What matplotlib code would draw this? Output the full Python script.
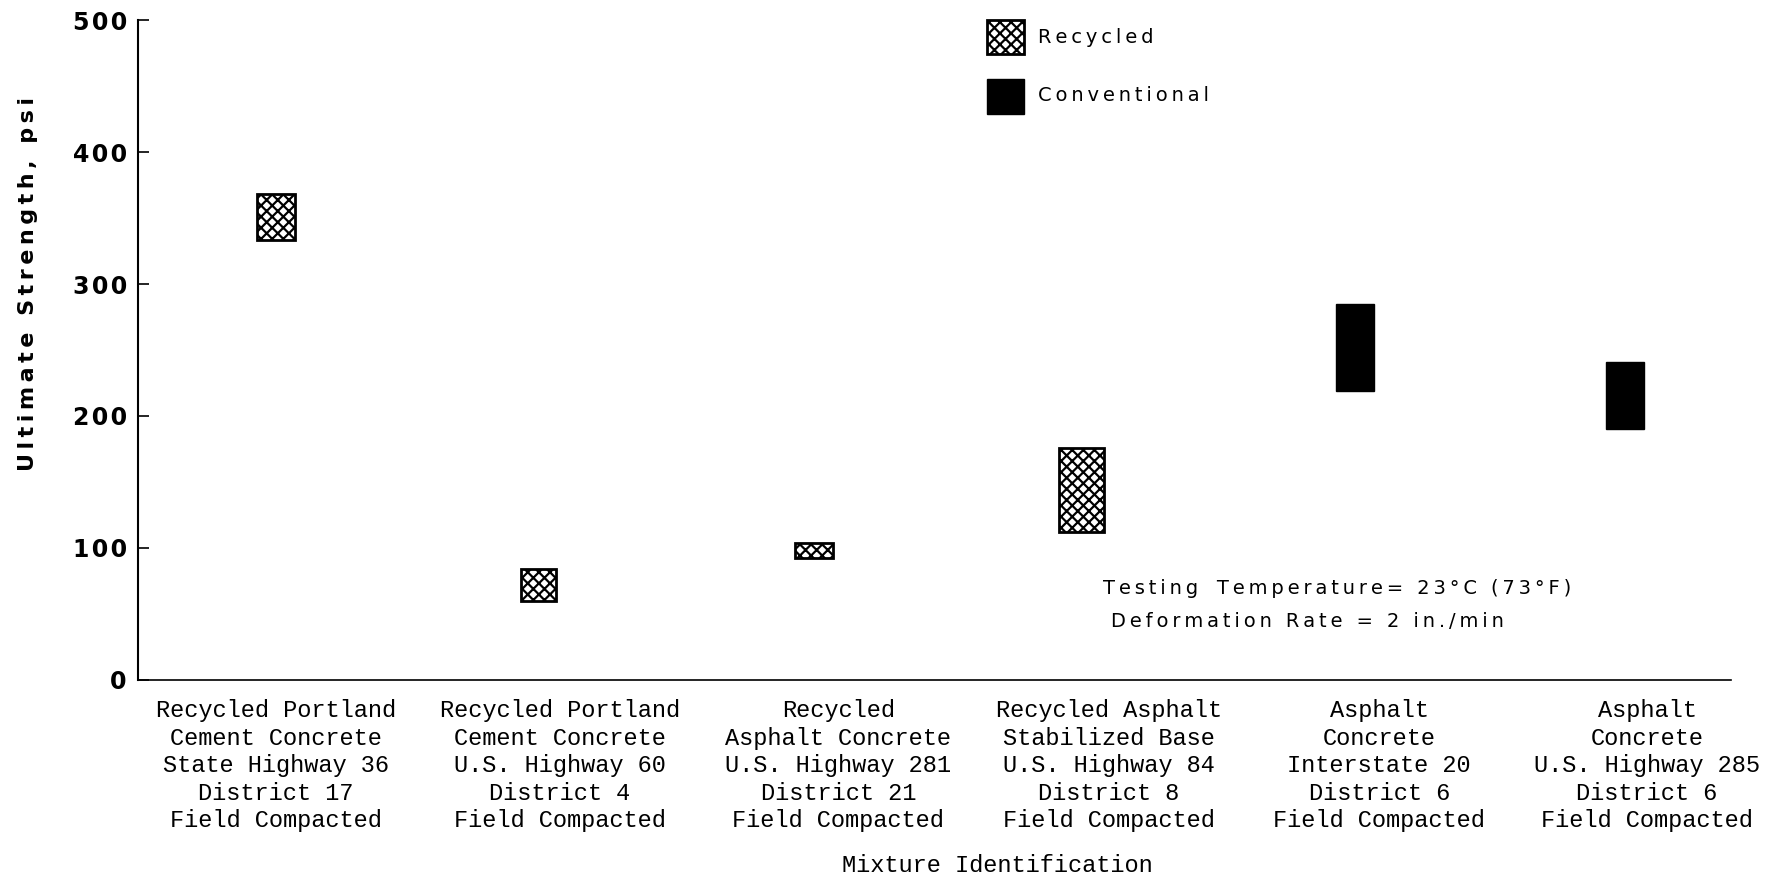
import matplotlib
matplotlib.use("Agg")
import matplotlib.pyplot as plt
from matplotlib.patches import Rectangle

categories = [
    "Recycled Portland\nCement Concrete\nState Highway 36\nDistrict 17\nField Compacted",
    "Recycled Portland\nCement Concrete\nU.S. Highway 60\nDistrict 4\nField Compacted",
    "Recycled\nAsphalt Concrete\nU.S. Highway 281\nDistrict 21\nField Compacted",
    "Recycled Asphalt\nStabilized Base\nU.S. Highway 84\nDistrict 8\nField Compacted",
    "Asphalt\nConcrete\nInterstate 20\nDistrict 6\nField Compacted",
    "Asphalt\nConcrete\nU.S. Highway 285\nDistrict 6\nField Compacted",
]
strength_low = [333, 60, 92, 112, 219, 190]
strength_high = [368, 84, 104, 176, 285, 241]
mixture_type = ["Recycled", "Recycled", "Recycled", "Recycled", "Conventional", "Conventional"]
yticks = [0, 100, 200, 300, 400, 500]

plt.rcParams["hatch.linewidth"] = 1.6

def spaced(s, sep="\u2009"):
    return sep.join(s)

fig = plt.figure(figsize=(17.68, 8.75), dpi=100)
ax = fig.add_axes([0.078, 0.223, 0.901, 0.754])

bar_x = [0, 0.97, 1.99, 2.98, 3.99, 4.99]
bar_w = [0.14, 0.13, 0.14, 0.165, 0.14, 0.14]
label_x = [0, 1.05, 2.08, 3.08, 4.08, 5.07]

for x, w, lo, hi, t in zip(bar_x, bar_w, strength_low, strength_high, mixture_type):
    if t == "Recycled":
        ax.bar(x, hi - lo, bottom=lo, width=w, facecolor="white", edgecolor="black",
               hatch="xxx", linewidth=2)
    else:
        ax.bar(x, hi - lo, bottom=lo, width=w, facecolor="black", edgecolor="black", linewidth=1)

ax.set_xlim(-0.51, 5.38)
ax.set_ylim(0, 500)
ax.set_yticks(yticks)
ax.set_yticklabels([spaced(str(v), "\u200a") for v in yticks], fontsize=17, fontweight="bold",
                   family="DejaVu Sans")
ax.tick_params(axis="y", direction="in", length=8, width=1.2, pad=8)
ax.set_xticks(label_x)
ax.set_xticklabels(categories, family="Liberation Mono", fontsize=17, linespacing=1.25)
ax.tick_params(axis="x", length=0, pad=14)
ax.spines["top"].set_visible(False)
ax.spines["right"].set_visible(False)
ax.spines["left"].set_linewidth(1.5)
ax.spines["bottom"].set_linewidth(1.2)

fig.text(0.016, 0.675, spaced("Ultimate Strength, psi"), rotation=90, fontsize=16,
         fontweight="bold", family="DejaVu Sans", ha="center", va="center")
fig.text(0.564, 0.011, "Mixture Identification", family="Liberation Mono",
         fontsize=17, ha="center", va="center")

# legend
lx0 = 0.533
ax.add_patch(Rectangle((lx0, 0.949), 0.023, 0.051, transform=ax.transAxes, facecolor="white",
                       edgecolor="black", hatch="xxx", linewidth=2, clip_on=False))
ax.add_patch(Rectangle((lx0, 0.858), 0.023, 0.053, transform=ax.transAxes, facecolor="black",
                       edgecolor="black", clip_on=False))
ax.text(lx0 + 0.032, 0.973, spaced("Recycled"), transform=ax.transAxes, fontsize=14,
        va="center", ha="left", family="DejaVu Sans")
ax.text(lx0 + 0.032, 0.885, spaced("Conventional"), transform=ax.transAxes, fontsize=14,
        va="center", ha="left", family="DejaVu Sans")

ax.text(0.606, 0.138, spaced("Testing") + "   " + spaced("Temperature= 23°C (73°F)"),
        transform=ax.transAxes, fontsize=14, va="center", ha="left", family="DejaVu Sans")
ax.text(0.611, 0.089, spaced("Deformation Rate = 2 in./min"), transform=ax.transAxes,
        fontsize=14, va="center", ha="left", family="DejaVu Sans")

fig.savefig("out.png", dpi=100)
